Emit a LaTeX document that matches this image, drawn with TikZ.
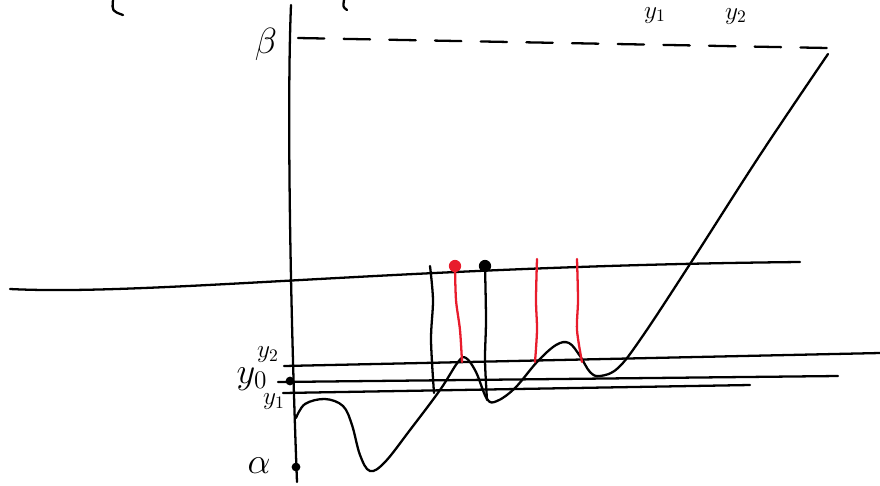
\documentclass[tikz,border=0pt]{standalone}
\usepackage{tikz}
\usetikzlibrary{calc}
\definecolor{penred}{RGB}{232, 28, 44}
\tikzset{
  pen/.style={line width=1.3pt, line cap=round, line join=round},
  redpen/.style={pen, draw=penred},
  dashpen/.style={pen, dash pattern=on 15pt off 11pt},
  hdot/.style={circle, fill, inner sep=0pt, minimum size=5pt},
  reddot/.style={hdot, fill=penred, minimum size=7pt},
  hlabel/.style={font=\huge, inner sep=1pt},
  smlabel/.style={font=\Large, inner sep=1pt},
}

\begin{document}
\begin{tikzpicture}[x=0.02cm, y=-0.02cm]
  \useasboundingbox (0,0) rectangle (880,485);
  % cut-off strokes at the top
  \draw[pen] (113,0) .. controls (112,11) .. (123,15);
  \draw[pen] (344,0) .. controls (343,7) .. (347,10);
  \node[smlabel, anchor=north] (ya) at (655,5) {$y_1$};
  \node[smlabel, anchor=north] (yb) at (736,6) {$y_2$};
  % axis and labels
  \draw[pen] (291,5) .. controls (287,100) and (290,300) .. (297,482);
  \node[hlabel] (beta) at (266,44) {$\beta$};
  \node[hlabel] (alpha) at (259,466) {$\alpha$};
  \node[smlabel] (ytwo) at (268,355) {$y_2$};
  \node[hlabel] (yzero) at (252,379) {$y_0$};
  \node[smlabel] (yone) at (274,402) {$y_1$};
  \node[hdot] (p0) at (290,381) {};
  \node[hdot] (pa) at (296,467) {};
  % beta level
  \coordinate (bl) at (298,38);
  \coordinate (br) at (828,48);
  \draw[dashpen] (bl) -- (br);
  % long level line
  \draw[pen] (10,289) .. controls (150,296) and (400,266) .. (800,262);
  % y lines
  \draw[pen] (284,366) -- (880,353);
  \draw[pen] (p0) ++(-12,1) -- (838,376);
  \draw[pen] (283,393) -- (750,385);
  % the function
  \draw[pen] plot[smooth, tension=0.6] coordinates {(296,418) (305,404) (325,399)
    (343,406) (352,425) (360,455) (370,471) (385,462) (410,430) (440,390)
    (458,362) (466,358) (476,372) (487,399) (497,401) (515,388) (537,362)
    (556,345) (569,343) (580,356) (590,372) (600,376) (618,368) (642,337)
    (690,264) (760,155) (828,54)};
  % points on the level line
  \node[reddot] (r1) at (455,266) {};
  \node[hdot, minimum size=7pt] (b1) at (485,266) {};
  % verticals
  \draw[pen] plot[smooth] coordinates {(430,266) (433,300) (431,340) (434,393)};
  \draw[pen] plot[smooth] coordinates {(b1) (486,320) (485,360) (487,400)};
  \draw[redpen] plot[smooth] coordinates {(r1) (456,300) (460,330) (462,362)};
  \draw[redpen] plot[smooth] coordinates {(537,259) (536,300) (537,330) (535,362)};
  \draw[redpen] plot[smooth] coordinates {(577,259) (578,300) (577,330) (582,362)};
\end{tikzpicture}
\end{document}
